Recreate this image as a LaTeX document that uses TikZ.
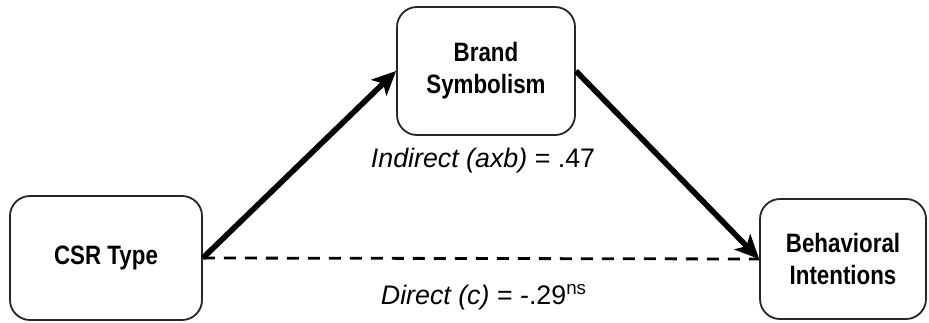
\documentclass[tikz,border=0pt]{standalone}
\usepackage{fontspec}
\setmainfont{Liberation Sans}
\newfontfamily\narrowsans{Liberation Sans}[FakeStretch=0.84]
\usetikzlibrary{arrows.meta}

\begin{document}
\begin{tikzpicture}[x=0.5pt,y=0.5pt,
  varbox/.style={draw=black!85,line width=0.9pt,rounded corners=10pt,fill=white,
    align=center,font=\narrowsans\bfseries\fontsize{13.3}{16}\selectfont},
  path/.style={line width=2.8pt,-{Stealth[length=12pt,width=11pt,inset=3pt]}},
  effect/.style={font=\fontsize{13.4}{15}\selectfont}]
\useasboundingbox (0,0) rectangle (929,322);
\node[varbox,minimum width=96pt,minimum height=62pt] (csr) at (106,64) {CSR Type};
\node[varbox,minimum width=89pt,minimum height=64pt] (brand) at (486,251) {Brand\\Symbolism};
\node[varbox,minimum width=83pt,minimum height=60pt] (bi) at (843,63) {Behavioral\\Intentions};
\draw[line width=1.4pt,dash pattern=on 6pt off 4.5pt] (csr.east) -- (bi.west);
\draw[path] (csr.east) -- (brand.west);
\draw[path] (brand.east) -- (bi.west);
\node[effect] (ind) at (483,161) {\textit{Indirect (axb)} = .47};
\node[effect] (dir) at (484,25) {\textit{Direct (c)} = -.29\textsuperscript{ns}};
\end{tikzpicture}
\end{document}
